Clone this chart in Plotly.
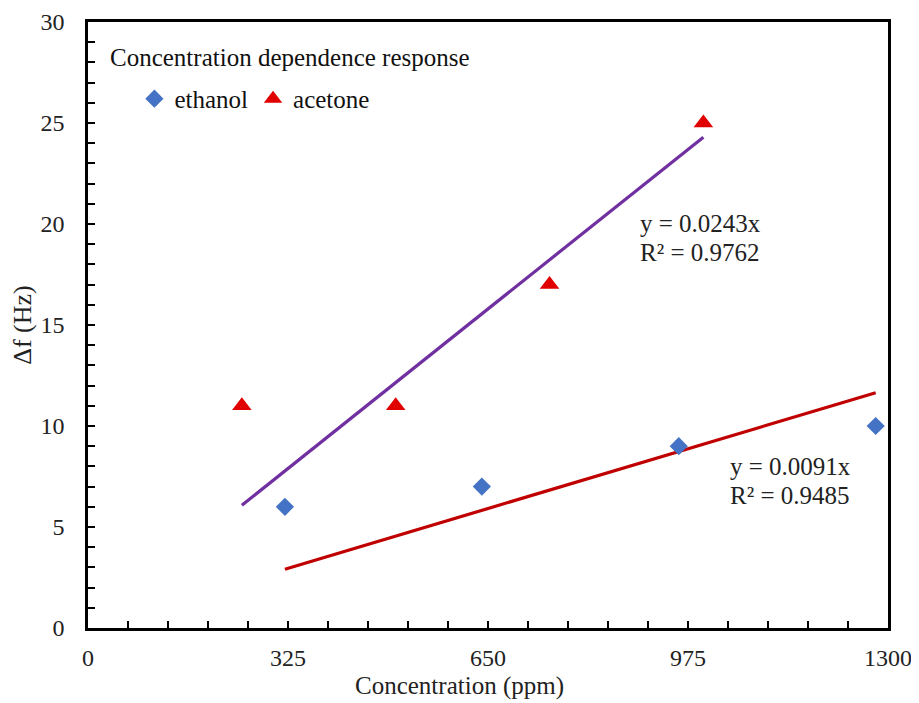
import plotly.graph_objects as go

ethanol_x = [320, 640, 960, 1280]
ethanol_y = [6, 7, 9, 10]
acetone_x = [250, 500, 750, 1000]
acetone_y = [11, 11, 17, 25]
slopes = {"ethanol": 0.0091, "acetone": 0.0243}
r2 = {"ethanol": 0.9485, "acetone": 0.9762}
x_ticks = [0, 325, 650, 975, 1300]
y_ticks = [0, 5, 10, 15, 20, 25, 30]

FONT = "Liberation Serif"

fig = go.Figure()


def trend(xs, k):
    xe = [min(xs), max(xs)]
    return xe, [k * v for v in xe]


tx, ty = trend(acetone_x, slopes["acetone"])
fig.add_trace(go.Scatter(x=tx, y=ty, mode="lines", line=dict(color="#7030A0", width=3.2),
                         showlegend=False, hoverinfo="skip"))
tx, ty = trend(ethanol_x, slopes["ethanol"])
fig.add_trace(go.Scatter(x=tx, y=ty, mode="lines", line=dict(color="#C00000", width=3.2),
                         showlegend=False, hoverinfo="skip"))

fig.add_trace(go.Scatter(x=ethanol_x, y=ethanol_y, mode="markers", name="ethanol",
                         marker=dict(symbol="diamond", size=14, color="#4472C4")))
fig.add_trace(go.Scatter(x=acetone_x, y=acetone_y, mode="markers", name="acetone",
                         marker=dict(symbol="triangle-up", size=17, color="#E00000")))

fig.add_annotation(x=0.0, y=0.942, xref="paper", yref="paper", xanchor="left", yanchor="middle",
                   xshift=20, text="Concentration dependence response", showarrow=False,
                   font=dict(family=FONT, size=25, color="#111"))

# x-axis title (offset left of plot centre, as in the reference)
fig.add_annotation(x=0.464, y=0, xref="paper", yref="paper", xanchor="center", yanchor="middle",
                   yshift=-58, text="Concentration (ppm)", showarrow=False,
                   font=dict(family=FONT, size=25, color="#222"))


def eq_labels(x, y1, y2, key):
    fig.add_annotation(x=x, y=y1, xref="paper", yref="paper", xanchor="left", yanchor="middle",
                       text=f"y = {slopes[key]}x", showarrow=False,
                       font=dict(family=FONT, size=25, color="#222"))
    fig.add_annotation(x=x, y=y2, xref="paper", yref="paper", xanchor="left", yanchor="middle",
                       text=f"R² = {r2[key]}", showarrow=False,
                       font=dict(family=FONT, size=25, color="#222"))


eq_labels(0.6875, 0.667, 0.620, "acetone")
eq_labels(0.80, 0.266, 0.218, "ethanol")

fig.update_layout(
    width=911, height=695,
    margin=dict(l=80, r=31, t=14, b=75, autoexpand=False),
    plot_bgcolor="white", paper_bgcolor="white",
    font=dict(family=FONT, size=24, color="#222"),
    legend=dict(orientation="h", x=0.058, y=0.873, xanchor="left", yanchor="middle",
                font=dict(family=FONT, size=25, color="#111"), itemwidth=30,
                bgcolor="rgba(0,0,0,0)", tracegroupgap=0),
    xaxis=dict(range=[0, 1300], tickvals=x_ticks, ticktext=[str(v) for v in x_ticks],
               ticks="inside", ticklen=7, tickwidth=2, tickcolor="black",
               minor=dict(ticks="inside", dtick=65, ticklen=7, tickwidth=2, tickcolor="black"),
               showline=True, linewidth=2.5, linecolor="black", mirror=True,
               showgrid=False, zeroline=False, ticklabelstandoff=6, automargin=False,
               tickfont=dict(family=FONT, size=24)),
    yaxis=dict(range=[0, 30], tickvals=y_ticks,
               ticks="inside", ticklen=7, tickwidth=2, tickcolor="black",
               minor=dict(ticks="inside", dtick=1, ticklen=7, tickwidth=2, tickcolor="black"),
               showline=True, linewidth=2.5, linecolor="black", mirror=True,
               showgrid=False, zeroline=False, ticklabelstandoff=16, automargin=False,
               tickfont=dict(family=FONT, size=24),
               title=dict(text="Δf (Hz)", font=dict(family=FONT, size=26), standoff=8)),
)

fig.write_html("out.html")
